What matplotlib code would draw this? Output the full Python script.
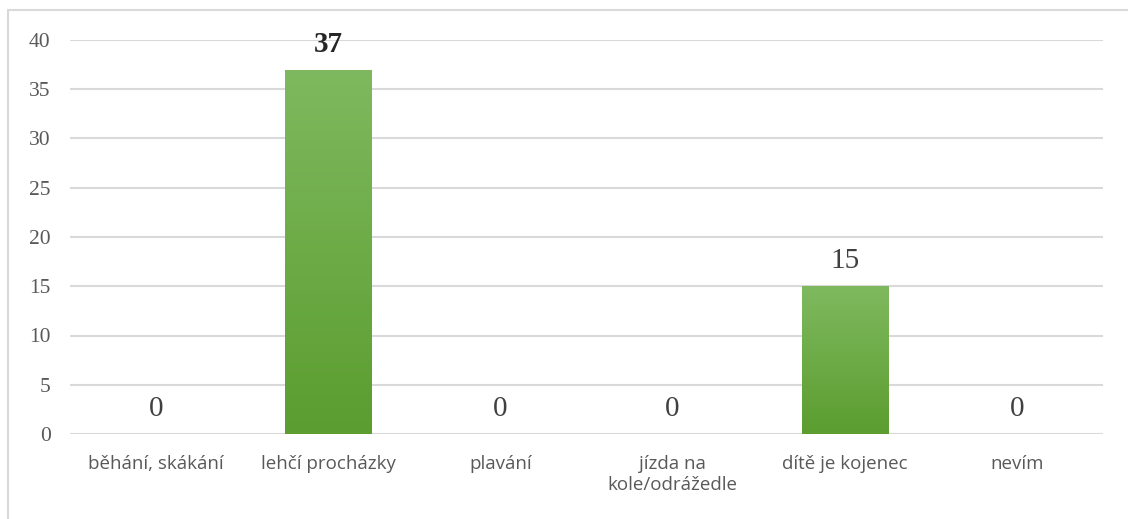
import matplotlib
matplotlib.use("Agg")
import matplotlib.pyplot as plt
import numpy as np
from matplotlib.patches import Rectangle
from matplotlib.colors import LinearSegmentedColormap

categories = ["běhání, skákání", "lehčí procházky", "plavání",
              "jízda na\nkole/odrážedle", "dítě je kojenec", "nevím"]
values = [0, 37, 0, 0, 15, 0]
bold_labels = [False, True, False, False, False, False]
yticks = [0, 5, 10, 15, 20, 25, 30, 35, 40]

fig = plt.figure(figsize=(11.28, 5.19), dpi=100)
fig.patch.set_facecolor("white")
# outer border
fig.add_artist(Rectangle((8/1128, -0.1), 1.2, 1 - 10/519 + 0.1,
                         transform=fig.transFigure, fill=False,
                         edgecolor="#d9d9d9", linewidth=1.5))

ax = fig.add_axes([70/1128, 1 - 434/519, (1103 - 70)/1128, (434 - 40)/519])
x = np.arange(len(categories))
bars = ax.bar(x, values, width=0.5, color="#6aaa3f", zorder=3)

# vertical gradient on each bar
grad = np.linspace(0, 1, 256).reshape(-1, 1)
cmap = LinearSegmentedColormap.from_list("g", ["#5b9d2f", "#7fb95f"])
for b in bars:
    h = b.get_height()
    if h <= 0:
        continue
    im = ax.imshow(grad, cmap=cmap, aspect="auto", origin="lower",
                   extent=(b.get_x(), b.get_x() + b.get_width(), 0, h), zorder=4)
    im.set_clip_path(b)

ax.set_xlim(-0.5, len(categories) - 0.5)
ax.set_ylim(0, 40)
ax.set_yticks(yticks)
ax.yaxis.grid(True, color="#d9d9d9", linewidth=1.5, zorder=0)
ax.set_axisbelow(True)
for s in ax.spines.values():
    s.set_visible(False)
ax.tick_params(axis="both", length=0)
ax.tick_params(axis="y", pad=14, labelcolor="#595959")
ax.tick_params(axis="x", pad=15, labelcolor="#595959")
ax.set_yticklabels([str(t) for t in yticks], family="Liberation Serif", fontsize=15.5)
ax.set_xticks(x)
ax.set_xticklabels(categories, family="Open Sans", fontsize=13.5, va="top",
                   linespacing=1.25)

for xi, v, bl in zip(x, values, bold_labels):
    ax.annotate(str(v), (xi, v), xytext=(0, 8.5), textcoords="offset points",
                ha="center", va="bottom", family="Liberation Serif",
                fontsize=21, color="#404040" if not bl else "#262626",
                fontweight="bold" if bl else "normal", zorder=5)

fig.savefig("out.png", dpi=100)
